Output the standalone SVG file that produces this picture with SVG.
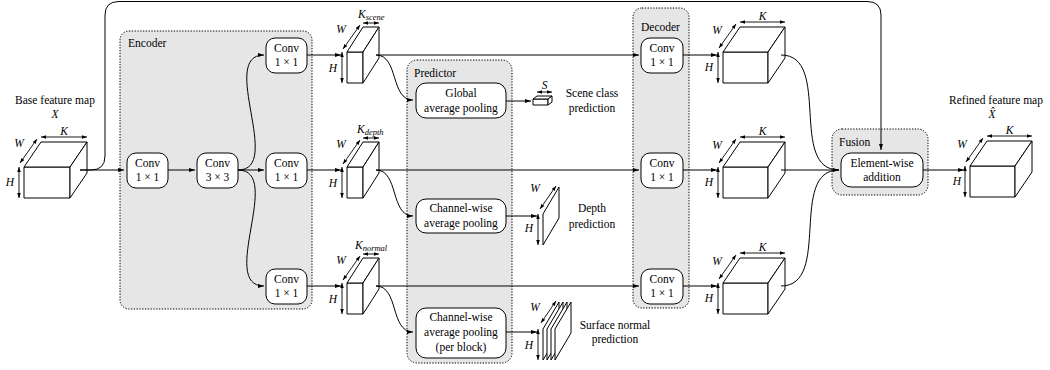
<svg xmlns="http://www.w3.org/2000/svg" width="1050" height="370" viewBox="0 0 1050 370">
<defs>
<style>
.grp{fill:#e6e6e6;stroke:#000;stroke-width:1;stroke-dasharray:1.3 1.5}
.nd{fill:#fff;stroke:#000;stroke-width:1}
.cb{fill:#fff;stroke:#000;stroke-width:1;stroke-linejoin:round}
.ln{fill:none;stroke:#000;stroke-width:1}
.arr{marker-end:url(#ah)}
.dim{fill:none;stroke:#000;stroke-width:0.9;marker-start:url(#dh);marker-end:url(#dh)}
text{font-family:"Liberation Serif","Times New Roman",serif;font-size:11.5px;fill:#000}
.c{text-anchor:middle}
.i{font-style:italic}
.sub{font-size:8.5px;font-style:italic}
</style>
<marker id="ah" viewBox="0 0 6 4" markerWidth="6" markerHeight="4" refX="6" refY="2" orient="auto-start-reverse" markerUnits="userSpaceOnUse"><path d="M0,0 L6,2 L0,4 Z"/></marker>
<marker id="dh" viewBox="0 0 5 3.6" markerWidth="5" markerHeight="3.6" refX="5" refY="1.8" orient="auto-start-reverse" markerUnits="userSpaceOnUse"><path d="M0,0 L5,1.8 L0,3.6 Z"/></marker>
</defs>

<!-- group containers -->
<g id="encoder">
<rect class="grp" x="120" y="31" width="192" height="278" rx="9"/>
<text x="128" y="47">Encoder</text>
</g>
<g id="predictor">
<rect class="grp" x="407" y="60" width="105" height="303" rx="10"/>
<text x="414" y="77">Predictor</text>
</g>
<g id="decoder">
<rect class="grp" x="633" y="8" width="56" height="300" rx="9"/>
<text x="641" y="31">Decoder</text>
</g>
<g id="fusion">
<rect class="grp" x="832" y="129" width="96" height="66" rx="10"/>
<text x="839" y="146">Fusion</text>
</g>

<!-- base feature map -->
<g id="base-cube">
<text class="c" x="55" y="104">Base feature map</text>
<text class="c i" x="55" y="118">X</text>
<rect class="cb" x="24" y="167" width="46" height="31"/>
<path class="cb" d="M24,167 L41,142 L87,142 L70,167 Z"/>
<path class="cb" d="M70,167 L87,142 L87,173 L70,198 Z"/>
<line class="dim" x1="41" y1="137" x2="87" y2="137"/>
<text class="c i" x="64" y="134.5">K</text>
<line class="dim" x1="20" y1="163" x2="37" y2="139"/>
<text class="c i" x="19" y="147">W</text>
<line class="dim" x1="19" y1="167" x2="19" y2="198"/>
<text class="c i" x="10" y="186">H</text>
</g>

<!-- encoder nodes -->
<g id="enc-conv1">
<rect class="nd" x="127" y="153" width="41" height="35" rx="9"/>
<text class="c" x="147.5" y="167">Conv</text>
<text class="c" x="147.5" y="181">1 × 1</text>
</g>
<g id="enc-conv3">
<rect class="nd" x="197" y="153" width="41" height="35" rx="9"/>
<text class="c" x="217.5" y="167">Conv</text>
<text class="c" x="217.5" y="181">3 × 3</text>
</g>
<g id="enc-conv-top">
<rect class="nd" x="266" y="38" width="41" height="35" rx="9"/>
<text class="c" x="286.5" y="52">Conv</text>
<text class="c" x="286.5" y="66">1 × 1</text>
</g>
<g id="enc-conv-mid">
<rect class="nd" x="266" y="153" width="41" height="35" rx="9"/>
<text class="c" x="286.5" y="167">Conv</text>
<text class="c" x="286.5" y="181">1 × 1</text>
</g>
<g id="enc-conv-bot">
<rect class="nd" x="266" y="269" width="41" height="35" rx="9"/>
<text class="c" x="286.5" y="283">Conv</text>
<text class="c" x="286.5" y="297">1 × 1</text>
</g>

<!-- thin feature cubes -->
<g id="cube-scene">
<rect class="cb" x="347" y="52" width="16" height="31"/>
<path class="cb" d="M347,52 L363,27 L379,27 L363,52 Z"/>
<path class="cb" d="M363,52 L379,27 L379,58 L363,83 Z"/>
<line class="dim" x1="363" y1="23" x2="379" y2="23"/>
<text class="i" x="358" y="18">K<tspan class="sub" dy="2">scene</tspan></text>
<line class="dim" x1="343" y1="49" x2="360" y2="25"/>
<text class="c i" x="341" y="33">W</text>
<line class="dim" x1="342" y1="52" x2="342" y2="83"/>
<text class="c i" x="333" y="72">H</text>
</g>
<g id="cube-depth">
<rect class="cb" x="347" y="167" width="16" height="31"/>
<path class="cb" d="M347,167 L363,142 L379,142 L363,167 Z"/>
<path class="cb" d="M363,167 L379,142 L379,173 L363,198 Z"/>
<line class="dim" x1="363" y1="138" x2="379" y2="138"/>
<text class="i" x="357" y="133">K<tspan class="sub" dy="2">depth</tspan></text>
<line class="dim" x1="343" y1="164" x2="360" y2="140"/>
<text class="c i" x="341" y="148">W</text>
<line class="dim" x1="342" y1="167" x2="342" y2="198"/>
<text class="c i" x="333" y="187">H</text>
</g>
<g id="cube-normal">
<rect class="cb" x="347" y="283" width="16" height="31"/>
<path class="cb" d="M347,283 L363,258 L379,258 L363,283 Z"/>
<path class="cb" d="M363,283 L379,258 L379,289 L363,314 Z"/>
<line class="dim" x1="363" y1="254" x2="379" y2="254"/>
<text class="i" x="355" y="249">K<tspan class="sub" dy="2">normal</tspan></text>
<line class="dim" x1="343" y1="280" x2="360" y2="256"/>
<text class="c i" x="341" y="264">W</text>
<line class="dim" x1="342" y1="283" x2="342" y2="314"/>
<text class="c i" x="333" y="303">H</text>
</g>

<!-- predictor nodes -->
<g id="pred-global">
<rect class="nd" x="416" y="83" width="90" height="35" rx="10"/>
<text class="c" x="461" y="97">Global</text>
<text class="c" x="461" y="112">average pooling</text>
</g>
<g id="pred-channel">
<rect class="nd" x="416" y="199" width="90" height="34" rx="10"/>
<text class="c" x="461" y="212">Channel-wise</text>
<text class="c" x="461" y="227">average pooling</text>
</g>
<g id="pred-block">
<rect class="nd" x="416" y="308" width="90" height="50" rx="10"/>
<text class="c" x="461" y="321">Channel-wise</text>
<text class="c" x="461" y="336">average pooling</text>
<text class="c" x="461" y="351">(per block)</text>
</g>

<!-- prediction outputs -->
<g id="out-scene">
<rect class="cb" x="533" y="99" width="15" height="6"/>
<path class="cb" d="M533,99 L537,96 L552,96 L548,99 Z"/>
<path class="cb" d="M548,99 L552,96 L552,102 L548,105 Z"/>
<line class="dim" x1="537" y1="92" x2="552" y2="92"/>
<text class="c i" x="544.5" y="89">S</text>
<text class="c" x="592" y="97">Scene class</text>
<text class="c" x="592" y="112">prediction</text>
</g>
<g id="out-depth">
<path class="cb" d="M543,214 L559,187 L559,218 L543,245 Z"/>
<line class="dim" x1="540" y1="209" x2="556" y2="186"/>
<text class="c i" x="535" y="192">W</text>
<line class="dim" x1="538" y1="214" x2="538" y2="245"/>
<text class="c i" x="529" y="232">H</text>
<text class="c" x="592" y="212">Depth</text>
<text class="c" x="592" y="228">prediction</text>
</g>
<g id="out-normal">
<path class="cb" d="M543,329 L559,302 L559,333 L543,360 Z"/>
<path class="cb" d="M547,329 L563,302 L563,333 L547,360 Z"/>
<path class="cb" d="M551,329 L567,302 L567,333 L551,360 Z"/>
<path class="cb" d="M555,329 L571,302 L571,333 L555,360 Z"/>
<line class="dim" x1="541" y1="323" x2="556" y2="301"/>
<text class="c i" x="535" y="311">W</text>
<line class="dim" x1="538" y1="329" x2="538" y2="360"/>
<text class="c i" x="529" y="349">H</text>
<text class="c" x="615" y="329">Surface normal</text>
<text class="c" x="615" y="343">prediction</text>
</g>

<!-- decoder nodes -->
<g id="dec-conv-top">
<rect class="nd" x="641" y="38" width="42" height="35" rx="9"/>
<text class="c" x="662" y="52">Conv</text>
<text class="c" x="662" y="66">1 × 1</text>
</g>
<g id="dec-conv-mid">
<rect class="nd" x="641" y="153" width="42" height="35" rx="9"/>
<text class="c" x="662" y="167">Conv</text>
<text class="c" x="662" y="181">1 × 1</text>
</g>
<g id="dec-conv-bot">
<rect class="nd" x="641" y="269" width="42" height="35" rx="9"/>
<text class="c" x="662" y="283">Conv</text>
<text class="c" x="662" y="297">1 × 1</text>
</g>

<!-- decoded cubes -->
<g id="dec-cube-top">
<rect class="cb" x="723" y="52" width="45" height="31"/>
<path class="cb" d="M723,52 L740,27 L785,27 L768,52 Z"/>
<path class="cb" d="M768,52 L785,27 L785,58 L768,83 Z"/>
<line class="dim" x1="740" y1="22" x2="785" y2="22"/>
<text class="c i" x="762.5" y="19.5">K</text>
<line class="dim" x1="719" y1="48" x2="736" y2="24"/>
<text class="c i" x="717" y="34">W</text>
<line class="dim" x1="718" y1="52" x2="718" y2="83"/>
<text class="c i" x="709" y="71">H</text>
</g>
<g id="dec-cube-mid">
<rect class="cb" x="723" y="167" width="45" height="31"/>
<path class="cb" d="M723,167 L740,142 L785,142 L768,167 Z"/>
<path class="cb" d="M768,167 L785,142 L785,173 L768,198 Z"/>
<line class="dim" x1="740" y1="137" x2="785" y2="137"/>
<text class="c i" x="762.5" y="134.5">K</text>
<line class="dim" x1="719" y1="163" x2="736" y2="139"/>
<text class="c i" x="717" y="149">W</text>
<line class="dim" x1="718" y1="167" x2="718" y2="198"/>
<text class="c i" x="709" y="186">H</text>
</g>
<g id="dec-cube-bot">
<rect class="cb" x="723" y="283" width="45" height="31"/>
<path class="cb" d="M723,283 L740,258 L785,258 L768,283 Z"/>
<path class="cb" d="M768,283 L785,258 L785,289 L768,314 Z"/>
<line class="dim" x1="740" y1="253" x2="785" y2="253"/>
<text class="c i" x="762.5" y="250.5">K</text>
<line class="dim" x1="719" y1="279" x2="736" y2="255"/>
<text class="c i" x="717" y="265">W</text>
<line class="dim" x1="718" y1="283" x2="718" y2="314"/>
<text class="c i" x="709" y="302">H</text>
</g>

<!-- fusion node -->
<g id="fusion-add">
<rect class="nd" x="841" y="153" width="82" height="34" rx="10"/>
<text class="c" x="882" y="167">Element-wise</text>
<text class="c" x="882" y="181">addition</text>
</g>

<!-- refined feature map -->
<g id="refined-cube">
<text class="c" x="996" y="104">Refined feature map</text>
<text class="c i" x="992" y="118">X̂</text>
<rect class="cb" x="970" y="166" width="45" height="31"/>
<path class="cb" d="M970,166 L987,141 L1032,141 L1015,166 Z"/>
<path class="cb" d="M1015,166 L1032,141 L1032,172 L1015,197 Z"/>
<line class="dim" x1="987" y1="136" x2="1032" y2="136"/>
<text class="c i" x="1009.5" y="133.5">K</text>
<line class="dim" x1="966" y1="162" x2="983" y2="138"/>
<text class="c i" x="962" y="148">W</text>
<line class="dim" x1="965" y1="166" x2="965" y2="197"/>
<text class="c i" x="957" y="185">H</text>
</g>

<!-- connectors -->
<g id="connectors" class="ln">
<path class="ln arr" d="M80,170 L124,170"/>
<path class="ln arr" d="M80,170 L91,170 Q105,170 105,156 L105,15 Q105,1.5 119,1.5 L867,1.5 Q881,1.5 881,15 L881,150"/>
<path class="ln arr" d="M168,170 L195,170"/>
<path class="ln arr" d="M238,170 C284,170 218,55 264,55"/>
<path class="ln arr" d="M238,170 L264,170"/>
<path class="ln arr" d="M238,170 C284,170 218,286 264,286"/>
<path class="ln arr" d="M307,55 L341,55"/>
<path class="ln arr" d="M307,170 L341,170"/>
<path class="ln arr" d="M307,286 L341,286"/>
<path class="ln arr" d="M376,55 L639,55"/>
<path class="ln arr" d="M376,170 L639,170"/>
<path class="ln arr" d="M376,286 L639,286"/>
<path class="ln arr" d="M376,55 C399,55 390,100 413,100"/>
<path class="ln arr" d="M376,170 C399,170 390,216 413,216"/>
<path class="ln arr" d="M376,286 C399,286 390,332 413,332"/>
<path class="ln arr" d="M506,101 L531,101"/>
<path class="ln arr" d="M506,216 L537,216"/>
<path class="ln arr" d="M506,332 L537,332"/>
<path class="ln arr" d="M683,55 L717,55"/>
<path class="ln arr" d="M683,170 L717,170"/>
<path class="ln arr" d="M683,286 L717,286"/>
<path class="ln" d="M781,55 C832,55 788,170 839,170"/>
<path class="ln arr" d="M781,170 L839,170"/>
<path class="ln" d="M781,286 C832,286 788,170 839,170"/>
<path class="ln arr" d="M923,170 L964,170"/>
</g>
</svg>
